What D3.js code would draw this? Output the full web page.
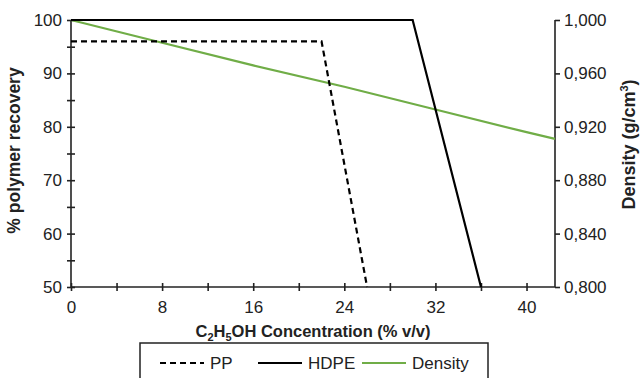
<!DOCTYPE html>
<html>
<head>
<meta charset="utf-8">
<script src="https://cdn.jsdelivr.net/npm/d3@7"></script>
<style>
  body { margin: 0; background: #fff; }
  svg { font-family: 'Liberation Sans', Arial, sans-serif; }
</style>
</head>
<body>
<div id="chart"></div>
<script>
// data
const ppConc = [0, 22, 26]
const ppRecovery = [96, 96, 50]
const hdpeConc = [0, 30, 36]
const hdpeRecovery = [100, 100, 50]
const densityConc = [0, 8, 16, 24, 32, 40, 42.5]
const densityValues = [1.0, 0.983, 0.966, 0.95, 0.933, 0.916, 0.911]

const xTicks = [0, 4, 8, 12, 16, 20, 24, 28, 32, 36, 40]
const yTicks = [50, 55, 60, 65, 70, 75, 80, 85, 90, 95, 100]
const y2Ticks = [0.8, 0.84, 0.88, 0.92, 0.96, 1.0]

const legendItems = [
  { name: 'PP', color: '#000', dash: '6,4' },
  { name: 'HDPE', color: '#000', dash: null },
  { name: 'Density', color: '#70ad47', dash: null }
]

const W = 641
const H = 378
const margin = { top: 20, left: 71, right: 86, bottom: 91 }
const width = W - margin.left - margin.right
const height = H - margin.top - margin.bottom

const svg = d3
  .select('#chart')
  .append('svg')
  .attr('width', W)
  .attr('height', H)

const g = svg
  .append('g')
  .attr('transform', `translate(${margin.left},${margin.top})`)

const x = d3.scaleLinear().domain([0, 42.5]).range([0, width])
const y = d3.scaleLinear().domain([50, 100]).range([height, 0])
const y2 = d3.scaleLinear().domain([0.8, 1.0]).range([height, 0])

const comma = d3.formatLocale({
  decimal: ',',
  thousands: '.',
  grouping: [3],
  currency: ['', '']
})

// x axis
const xAxis = g
  .append('g')
  .attr('transform', `translate(0,${height})`)
  .call(
    d3
      .axisBottom(x)
      .tickValues(xTicks)
      .tickSize(4)
      .tickPadding(10)
      .tickFormat(d => (d % 8 === 0 ? d : ''))
  )
xAxis.select('.domain').attr('d', `M0,0H${width}`)
xAxis.selectAll('.tick line').attr('y1', -4)

// left y axis
const yAxis = g.append('g').call(
  d3
    .axisLeft(y)
    .tickValues(yTicks)
    .tickSize(4)
    .tickPadding(5)
    .tickFormat(d => (d % 10 === 0 ? d : ''))
)
yAxis.select('.domain').attr('d', `M0,0V${height}`)
yAxis.selectAll('.tick line').attr('x1', 4)

// right y axis
const y2Axis = g
  .append('g')
  .attr('transform', `translate(${width},0)`)
  .call(
    d3
      .axisRight(y2)
      .tickValues(y2Ticks)
      .tickSize(5)
      .tickPadding(4)
      .tickFormat(comma.format('.3f'))
  )
y2Axis.select('.domain').attr('d', `M0,0V${height}`)

g.selectAll('.domain, .tick line')
  .attr('stroke', '#222')
  .attr('stroke-width', 1.6)
g.selectAll('.tick text')
  .attr('font-size', 17)
  .attr('fill', '#222')
  .attr('font-family', "'Liberation Sans', Arial, sans-serif")

// lines
const line = d3
  .line()
  .x(d => x(d[0]))
  .y(d => y(d[1]))

g.append('path')
  .datum(densityConc.map((c, i) => [c, densityValues[i]]))
  .attr('fill', 'none')
  .attr('stroke', '#70ad47')
  .attr('stroke-width', 2.2)
  .attr('d', d3.line().x(d => x(d[0])).y(d => y2(d[1])))

g.append('path')
  .datum(ppConc.map((c, i) => [c, ppRecovery[i]]))
  .attr('fill', 'none')
  .attr('stroke', '#000')
  .attr('stroke-width', 2.2)
  .attr('stroke-dasharray', '6,4')
  .attr('d', line)

g.append('path')
  .datum(hdpeConc.map((c, i) => [c, hdpeRecovery[i]]))
  .attr('fill', 'none')
  .attr('stroke', '#000')
  .attr('stroke-width', 2.2)
  .attr('d', line)

// axis titles
const xTitle = svg
  .append('text')
  .attr('x', margin.left + width / 2)
  .attr('y', 337)
  .attr('text-anchor', 'middle')
  .attr('font-size', 16.5)
  .attr('font-weight', 'bold')
  .attr('fill', '#222')
xTitle.append('tspan').text('C')
xTitle.append('tspan').text('2').attr('font-size', 11).attr('dy', 4)
xTitle.append('tspan').text('H').attr('dy', -4)
xTitle.append('tspan').text('5').attr('font-size', 11).attr('dy', 4)
xTitle.append('tspan').text('OH Concentration (% v/v)').attr('dy', -4)

svg
  .append('text')
  .attr('transform', `translate(20,${margin.top + height / 2 - 3}) rotate(-90)`)
  .attr('text-anchor', 'middle')
  .attr('font-size', 17.5)
  .attr('font-weight', 'bold')
  .attr('fill', '#222')
  .text('% polymer recovery')

const y2Title = svg
  .append('text')
  .attr('transform', `translate(635,${margin.top + height / 2 - 9}) rotate(-90)`)
  .attr('text-anchor', 'middle')
  .attr('font-size', 18)
  .attr('font-weight', 'bold')
  .attr('fill', '#222')
y2Title.append('tspan').text('Density (g/cm')
y2Title.append('tspan').text('3').attr('font-size', 11).attr('dy', -7)
y2Title.append('tspan').text(')').attr('dy', 7)

// legend
const legend = svg.append('g').attr('transform', 'translate(140,343)')
legend
  .append('rect')
  .attr('width', 348)
  .attr('height', 40)
  .attr('fill', '#fff')
  .attr('stroke', '#222')
  .attr('stroke-width', 1.5)

const legendX = [20, 118, 222]
legend
  .selectAll('.legend-item')
  .data(legendItems)
  .enter()
  .append('g')
  .attr('transform', (d, i) => `translate(${legendX[i]},20)`)
  .each(function(d) {
    const item = d3.select(this)
    item
      .append('line')
      .attr('x1', 0)
      .attr('x2', 44)
      .attr('stroke', d.color)
      .attr('stroke-width', 2.2)
      .attr('stroke-dasharray', d.dash)
    item
      .append('text')
      .attr('x', 50)
      .attr('y', 6)
      .attr('font-size', 17)
      .attr('fill', '#222')
      .text(d.name)
  })
</script>
</body>
</html>
